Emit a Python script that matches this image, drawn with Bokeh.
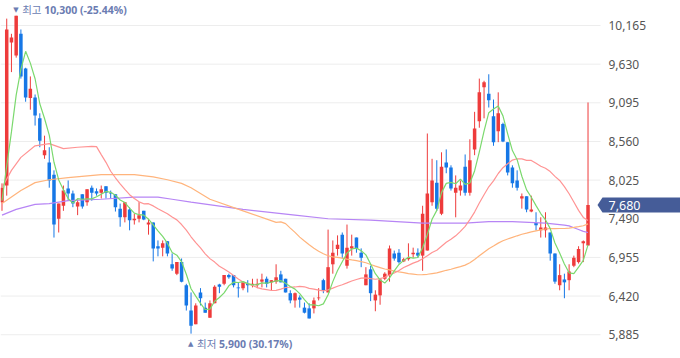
import numpy as np
from bokeh.plotting import figure
from bokeh.models import Range1d, Label, ColumnDataSource
from bokeh.core.properties import value
from bokeh.embed import file_html
from bokeh.resources import INLINE

# ---------------- data (daily candles) ----------------
opens = [
    7720, 7950, 9930, 9750, 10050, 9570, 9160, 9170, 8880, 8370,
    8270, 8100, 7490, 7670, 7910, 7840, 7660, 7830, 7720, 7920,
    7870, 7850, 7940, 7850, 7830, 7630, 7510, 7620, 7470, 7490,
    7600, 7410, 7440, 7110, 7090, 7180, 6860, 6730, 6890, 6570,
    6220, 6030, 6470, 6260, 6120, 6320, 6580, 6590, 6710, 6710,
    6540, 6530, 6590, 6570, 6570, 6620, 6660, 6610, 6620, 6720,
    6660, 6460, 6360, 6400, 6260, 6250, 6250, 6390, 6640, 6470,
    6860, 7070, 7270, 6840, 7080, 7230, 7020, 6570, 6790, 6360,
    6430, 6660, 6710, 7010, 7020, 6900, 6930, 7000, 7020, 6980,
    7050, 7720, 7990, 7560, 8270, 8200, 7850, 7880, 8210, 7850,
    8450, 8840, 9310, 9220, 8910, 8700, 8800, 8550, 8200, 8020,
    7770, 7800, 7590, 7430, 7330, 7330, 7300, 7010, 6570, 6650,
    6640, 6840, 6890, 7150, 7120]
highs = [
    7980, 10260, 10050, 10300, 10110, 9580, 9460, 9210, 8950, 8640,
    8480, 8160, 7700, 7950, 8020, 7880, 7760, 7830, 7900, 7950,
    7910, 7950, 7940, 7880, 7830, 7700, 7720, 7650, 7560, 7720,
    7600, 7490, 7440, 7190, 7190, 7180, 7010, 6890, 6940, 6590,
    6470, 6320, 6530, 6330, 6360, 6570, 6590, 6710, 6730, 6710,
    6610, 6610, 6640, 6660, 6660, 6730, 6690, 6640, 6860, 6770,
    6660, 6500, 6470, 6430, 6330, 6320, 6400, 6530, 6660, 7340,
    7190, 7260, 7300, 7410, 7270, 7230, 7080, 6820, 6840, 6500,
    6650, 6750, 7120, 7050, 7070, 6950, 7150, 7090, 7080, 7670,
    8670, 8320, 8300, 8410, 8450, 8230, 8090, 8020, 8380, 8590,
    8970, 9430, 9400, 9490, 9140, 9240, 8820, 8550, 8230, 8160,
    7840, 7800, 7810, 7580, 7510, 7580, 7300, 7010, 6860, 6730,
    6860, 6980, 7110, 7190, 9100]
lows = [
    7600, 7810, 9520, 9720, 9430, 9110, 9000, 8780, 8480, 8320,
    7920, 7230, 7300, 7600, 7740, 7650, 7540, 7630, 7670, 7740,
    7810, 7770, 7770, 7770, 7590, 7380, 7440, 7330, 7410, 7440,
    7470, 7270, 6900, 6970, 6970, 6970, 6770, 6710, 6610, 6220,
    5900, 6030, 6290, 6190, 6120, 6320, 6460, 6570, 6660, 6540,
    6400, 6500, 6470, 6540, 6530, 6540, 6540, 6500, 6590, 6610,
    6470, 6320, 6260, 6260, 6180, 6110, 6180, 6360, 6460, 6470,
    6730, 6980, 6940, 6800, 6980, 7020, 6820, 6570, 6350, 6210,
    6300, 6640, 6620, 6910, 6870, 6890, 6910, 6950, 6950, 6770,
    7050, 7670, 7600, 7540, 8120, 7880, 7510, 7810, 7810, 7810,
    8370, 8750, 8880, 9030, 8500, 8550, 8550, 8090, 7920, 7880,
    7630, 7580, 7580, 7330, 7230, 7230, 6910, 6590, 6500, 6390,
    6500, 6820, 6870, 6890, 7120]
closes = [
    7920, 10110, 10000, 10300, 9460, 9170, 9290, 8920, 8570, 8440,
    8020, 7410, 7700, 7880, 7840, 7700, 7720, 7660, 7900, 7850,
    7840, 7900, 7850, 7840, 7650, 7510, 7720, 7470, 7490, 7540,
    7480, 7440, 7080, 7080, 7150, 7010, 6800, 6890, 6620, 6290,
    6010, 6290, 6390, 6190, 6320, 6550, 6550, 6710, 6680, 6570,
    6530, 6610, 6570, 6590, 6590, 6650, 6590, 6640, 6680, 6610,
    6470, 6360, 6460, 6370, 6190, 6110, 6360, 6400, 6500, 6820,
    7020, 7130, 7010, 7090, 7110, 7080, 6950, 6720, 6460, 6440,
    6650, 6730, 7080, 6940, 6890, 6930, 6950, 7020, 6980, 7560,
    7840, 8020, 7630, 8210, 8200, 7910, 7920, 7950, 7850, 8300,
    8740, 9240, 9380, 9130, 8550, 8950, 8560, 8130, 7980, 7920,
    7800, 7620, 7620, 7400, 7370, 7370, 7010, 6620, 6710, 6610,
    6760, 6950, 7070, 7180, 7680]

# closes just before the visible window (inferred from the MA5 start)
prior_closes = [7700, 7650, 7750, 7680]

ma20_early_idx = [0, 2, 4, 7, 10, 13, 16]
ma20_early_val = [7920, 8160, 8340, 8500, 8530, 8460, 8480]
ma60_early_idx = [0, 4, 7, 10, 14, 21, 28, 32, 35, 38, 40, 44, 51, 58]
ma60_early_val = [7700, 7880, 7990, 8030, 8060, 8100, 8100, 8070, 8030, 7980, 7920, 7760, 7600, 7440]
ma120_early_idx = [0, 3, 7, 10, 14, 21, 28, 33, 36, 40, 51, 62, 69, 78, 89, 98, 103, 108, 115]
ma120_early_val = [7540, 7620, 7690, 7700, 7740, 7760, 7790, 7790, 7760, 7720, 7620, 7540, 7490, 7470,
                   7430, 7430, 7450, 7450, 7430]

y_ticks = [5885, 6420, 6955, 7490, 8025, 8560, 9095, 9630, 10165]

# ---------------- styles ----------------
RED = "#ee3b3b"
BLUE = "#1677e6"
C_MA5 = "#7bd96e"
C_MA20 = "#ff9494"
C_MA60 = "#ffb47c"
C_MA120 = "#b785f5"
NOTE = "#6b7cb2"
TAG = "#455c98"

W, H = 680, 358
PLOT_W = 600            # width of the candle area in px
n = len(closes)
idx = list(range(n))
X0 = -0.317
PX = 126.957 / PLOT_W   # data units per px along x
X1 = X0 + W * PX
Y0, Y1 = 5556, 10511
PY = (Y1 - Y0) / H      # data units per px along y


def xpx(px):
    return X0 + px * PX


def sma(arr, w):
    return np.convolve(np.asarray(arr, float), np.ones(w) / w, mode="valid")


ma5 = sma(prior_closes + closes, 5)
ma20_x = ma20_early_idx + list(range(19, n))
ma20_y = ma20_early_val + list(sma(closes, 20))
ma60_x = ma60_early_idx + list(range(59, n))
ma60_y = ma60_early_val + list(sma(closes, 60))
ma120_x = ma120_early_idx + list(range(119, n))
ma120_y = ma120_early_val + list(sma(closes, 120))

colors = [RED if c >= o else BLUE for o, c in zip(opens, closes)]
src = ColumnDataSource(dict(
    x=idx, o=opens, h=highs, l=lows, c=closes,
    top=[max(o, c) for o, c in zip(opens, closes)],
    bot=[min(o, c) for o, c in zip(opens, closes)],
    color=colors))

p = figure(width=W, height=H, output_backend="svg", toolbar_location=None,
           x_range=Range1d(X0, X1), y_range=Range1d(Y0, Y1),
           x_axis_location=None, y_axis_location=None,
           min_border=0, background_fill_color="white", border_fill_color="white")
p.outline_line_color = None
p.grid.visible = False

# horizontal grid lines (only under the candle area) and price scale texts
p.segment(x0=[xpx(0)] * len(y_ticks), x1=[xpx(PLOT_W)] * len(y_ticks),
          y0=y_ticks, y1=y_ticks, line_color="#ededed", line_width=1)
p.text(x=[xpx(PLOT_W + 8)] * len(y_ticks), y=y_ticks, text=[f"{t:,}" for t in y_ticks],
       text_font=value("Noto Sans"), text_font_size="12px", text_color="#555555",
       text_baseline="middle", text_align="left")

# candles
p.segment(x0="x", y0="l", x1="x", y1="h", line_color="color", line_width=1, source=src)
p.vbar(x="x", width=0.74, top="top", bottom="bot", fill_color="color", line_color=None, source=src)

# moving averages
p.line(ma120_x, ma120_y, line_color=C_MA120, line_width=1.2)
p.line(ma60_x, ma60_y, line_color=C_MA60, line_width=1.2)
p.line(ma20_x, ma20_y, line_color=C_MA20, line_width=1.2)
p.line(idx, list(ma5), line_color=C_MA5, line_width=1.2)

# high / low notes
hi_i = int(np.argmax(highs))
lo_i = int(np.argmin(lows))
hi, lo, last = highs[hi_i], lows[lo_i], closes[-1]
hi_txt = f"{hi:,} ({(last / hi - 1) * 100:.2f}%)"
lo_txt = f"{lo:,} ({(last / lo - 1) * 100:.2f}%)"

for (xi, yv, yoff, mark, word, txt) in [
        (hi_i, hi, 6, "▼", "최고", hi_txt),
        (lo_i, lo, -10, "▲", "최저", lo_txt)]:
    p.add_layout(Label(x=xi, y=yv, x_offset=-3, y_offset=yoff, text=mark,
                       text_font="DejaVu Sans", text_font_size="7px", text_color=NOTE,
                       text_baseline="middle", text_align="left"))
    p.add_layout(Label(x=xi, y=yv, x_offset=6, y_offset=yoff, text=word,
                       text_font="Noto Sans CJK KR", text_font_size="10.5px", text_color=NOTE,
                       text_baseline="middle", text_align="left"))
    p.add_layout(Label(x=xi, y=yv, x_offset=28, y_offset=yoff, text=txt,
                       text_font="Noto Sans", text_font_size="10.5px", text_font_style="bold",
                       text_color=NOTE, text_baseline="middle", text_align="left"))

# current price tag
p.patch([xpx(597), xpx(602), xpx(W + 2), xpx(W + 2), xpx(602)],
        [last, last + 7.5 * PY, last + 7.5 * PY, last - 7.5 * PY, last - 7.5 * PY],
        fill_color=TAG, line_color=None)
p.text(x=[xpx(608)], y=[last], text=[f"{last:,}"], text_color="white",
       text_font=value("Noto Sans"), text_font_size="12.5px",
       text_baseline="middle", text_align="left")

open("out.html", "w").write(file_html(p, INLINE))
